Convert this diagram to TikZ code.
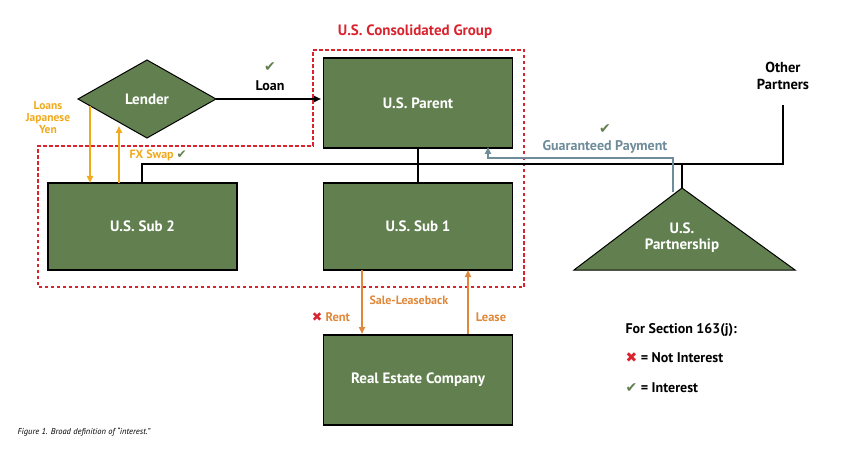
\documentclass[tikz,border=0pt]{standalone}
\usepackage{fontspec}
\setmainfont{PT Sans}
\newfontfamily\djvfont{DejaVu Sans}
\usetikzlibrary{arrows.meta}
\definecolor{gr}{HTML}{62804F}
\definecolor{org}{HTML}{F0AA1C}
\definecolor{org2}{HTML}{E0883A}
\definecolor{rd}{HTML}{D9232E}
\definecolor{stl}{HTML}{6E8C9A}
\newcommand{\ck}{{\djvfont\color{gr}\char"2714}}
\newcommand{\xx}{{\djvfont\color{rd}\char"2716}}
\tikzset{box/.style={draw=black,line width=1.5pt,fill=gr,text=white,font=\bfseries\fontsize{15}{17}\selectfont,align=center},
lbl/.style={font=\bfseries\fontsize{14}{16}\selectfont,align=center},
sm/.style={font=\bfseries\fontsize{13}{15}\selectfont,align=center},
arr/.style={line width=1.8pt,-{Triangle[length=7pt,width=6pt]}}}
\begin{document}
\begin{tikzpicture}[x=1pt,y=-1pt]
\useasboundingbox (0,0) rectangle (842,454);
\draw[rd,line width=1.2pt,dash pattern=on 3.5pt off 2.5pt] (313,50)--(524,50)--(524,287)--(38,287)--(38,146)--(313,146)--cycle;
\node[text=rd,lbl,font=\bfseries\fontsize{15}{17}\selectfont] (title) at (415,32) {U.S. Consolidated Group};
\node[box,minimum width=189pt,minimum height=90pt] (par) at (418,103) {U.S. Parent};
\node[box,minimum width=189pt,minimum height=87pt] (s1) at (418,226.5) {U.S. Sub 1};
\node[box,minimum width=189pt,minimum height=87pt] (s2) at (142.5,226.5) {U.S. Sub 2};
\node[box,minimum width=189pt,minimum height=90pt] (re) at (418,380) {Real Estate Company};
\draw[box,line width=1pt] (78,99)--(147,60)--(216,99)--(147,138)--cycle;
\node[text=white,font=\bfseries\fontsize{15}{17}\selectfont] (lend) at (147,99) {Lender};
\draw[box,line width=1pt] (682,188)--(795,270)--(574,270)--cycle;
\node[text=white,font=\bfseries\fontsize{15}{16}\selectfont,align=center] (ptn) at (682,238) {U.S.\\Partnership};
\coordinate (lr) at (216,99);
\coordinate (pt) at (682,188);
% tree
\draw[line width=1.8pt] (142,183)--(142,164)--(783,164)--(783,105);
\draw[line width=1.8pt] (par.south)--(s1.north);
\draw[line width=1.8pt] (682,164)--(pt);
\node[lbl,font=\bfseries\fontsize{14.5}{17}\selectfont] (op) at (783,76) {Other\\Partners};
% loan
\draw[arr] (lr)--(321,99);
\node[lbl] (ln) at (270,86) {Loan};
\node[font=\fontsize{14}{16}\selectfont] (c1) at (270,67) {\ck};
% guaranteed
\draw[stl,line width=1.6pt,-{Triangle[length=7pt,width=6pt]}] (673,192)--(673,158)--(488,158)--(488,147);
\node[lbl,text=stl] (gp) at (605,147) {Guaranteed Payment};
\node[font=\fontsize{14}{16}\selectfont] (c2) at (605,129) {\ck};
% loans yen
\draw[arr,org] (90,106)--(90,183);
\draw[arr,org] (119,183)--(119,126);
\node[text=org,font=\bfseries\fontsize{11.5}{12}\selectfont,align=center] (ly) at (48,118) {Loans\\Japanese\\Yen};
\node[sm,text=org,font=\bfseries\fontsize{12}{14}\selectfont,anchor=west] (fx) at (126,155) {FX Swap \ck};
% rent lease
\draw[arr,org2] (362,270)--(362,334);
\draw[arr,org2] (468,334)--(468,270);
\node[sm,text=org2,font=\bfseries\fontsize{12}{14}\selectfont,anchor=west] (sl) at (366,300) {Sale-Leaseback};
\node[sm,text=org2,font=\bfseries\fontsize{12.5}{14}\selectfont] (rent) at (331,317) {\xx\ Rent};
\node[sm,text=org2,font=\bfseries\fontsize{12.5}{14}\selectfont] (lease) at (491,317) {Lease};
% legend
\node[lbl,anchor=west] (lg) at (622,330) {For Section 163(j):};
\node[lbl,anchor=west] (lg1) at (622,358) {\xx\ = Not Interest};
\node[lbl,anchor=west] (lg2) at (622,388) {\ck\ = Interest};
\node[anchor=west,font=\itshape\fontsize{8.5}{10}\selectfont] (cap) at (14,432) {Figure 1. Broad definition of “interest.”};
\end{tikzpicture}
\end{document}
